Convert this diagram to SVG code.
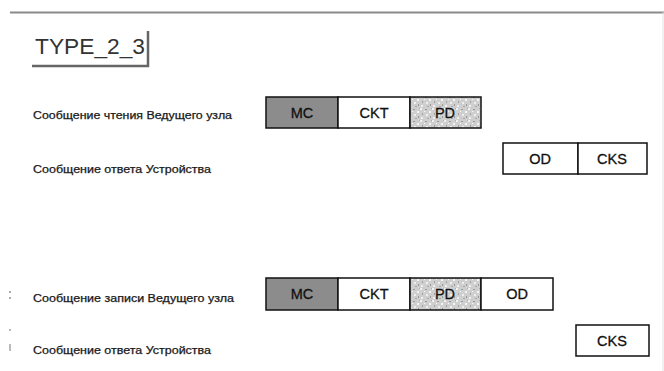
<svg xmlns="http://www.w3.org/2000/svg" width="664" height="371" viewBox="0 0 664 371">
<style>
.lbl{font-family:"Liberation Sans",Arial,sans-serif;font-size:10px;fill:#1a1a1a;stroke:#1a1a1a;stroke-width:0.25;}
.bt{font-family:"Liberation Sans",Arial,sans-serif;font-size:14.5px;fill:#111;text-anchor:middle;stroke:#111;stroke-width:0.3;}
.box{stroke:#111;stroke-width:1.5;}
.mc{fill:#8c8c8c;}
.w{fill:#fff;}
.pd{fill:url(#speck);}
</style>
<defs>
<pattern id="speck" width="12" height="12" patternUnits="userSpaceOnUse">
<rect width="12" height="12" fill="#cfcfcf"/>
<rect x="0" y="0" width="2" height="2" fill="#f2f2f2"/>
<rect x="5" y="1" width="2" height="1" fill="#9a9a9a"/>
<rect x="9" y="3" width="2" height="2" fill="#f5f5f5"/>
<rect x="2" y="5" width="1" height="2" fill="#a0a0a0"/>
<rect x="6" y="6" width="2" height="2" fill="#eeeeee"/>
<rect x="10" y="8" width="1" height="2" fill="#999"/>
<rect x="1" y="9" width="2" height="2" fill="#f0f0f0"/>
<rect x="7" y="10" width="2" height="1" fill="#a5a5a5"/>
<rect x="4" y="3" width="1" height="1" fill="#fafafa"/>
<rect x="11" y="0" width="1" height="1" fill="#aaa"/>
</pattern>
</defs>
<rect width="664" height="371" fill="#fff"/>
<g id="frame">
<line x1="10" y1="12.5" x2="664" y2="12.5" stroke="#8a8a8a" stroke-width="2"/>
<line x1="663" y1="12" x2="663" y2="371" stroke="#e2e2e2" stroke-width="1"/>
<rect x="9" y="291" width="2" height="2" fill="#aaa"/>
<rect x="9" y="297" width="2" height="2" fill="#aaa"/>
<rect x="9" y="329" width="2" height="2" fill="#bbb"/>
<rect x="9" y="344" width="2" height="7" fill="#bbb"/>
</g>
<g id="title">
<text x="35" y="54" textLength="110" lengthAdjust="spacingAndGlyphs" style="font-family:'Liberation Sans',Arial,sans-serif;font-size:22.5px;fill:#333;">TYPE_2_3</text>
<polyline points="32,66 148,66 148,31" fill="none" stroke="#666" stroke-width="2.5"/>
</g>
<g id="row1">
<text class="lbl" x="33" y="118.5" textLength="199" lengthAdjust="spacingAndGlyphs">Сообщение чтения Ведущего узла</text>
<rect class="box mc" x="266" y="97" width="72" height="31"/>
<rect class="box w" x="338" y="97" width="72" height="31"/>
<rect class="box pd" x="410" y="97" width="71" height="31"/>
<text class="bt" x="302" y="118">MC</text>
<text class="bt" x="374" y="118">CKT</text>
<text class="bt" x="445" y="118">PD</text>
</g>
<g id="row2">
<text class="lbl" x="33" y="172.5" textLength="178" lengthAdjust="spacingAndGlyphs">Сообщение ответа Устройства</text>
<rect class="box w" x="503" y="143" width="75" height="31"/>
<rect class="box w" x="578" y="143" width="69" height="31"/>
<text class="bt" x="540" y="164">OD</text>
<text class="bt" x="612" y="164">CKS</text>
</g>
<g id="row3">
<text class="lbl" x="33" y="301.5" textLength="201" lengthAdjust="spacingAndGlyphs">Сообщение записи Ведущего узла</text>
<rect class="box mc" x="266" y="278" width="72" height="32"/>
<rect class="box w" x="338" y="278" width="72" height="32"/>
<rect class="box pd" x="410" y="278" width="71" height="32"/>
<rect class="box w" x="481" y="278" width="72" height="32"/>
<text class="bt" x="302" y="299">MC</text>
<text class="bt" x="374" y="299">CKT</text>
<text class="bt" x="445" y="299">PD</text>
<text class="bt" x="517" y="299">OD</text>
</g>
<g id="row4">
<text class="lbl" x="33" y="353.5" textLength="178" lengthAdjust="spacingAndGlyphs">Сообщение ответа Устройства</text>
<rect class="box w" x="576" y="325" width="73" height="31"/>
<text class="bt" x="612" y="346">CKS</text>
</g>
</svg>
